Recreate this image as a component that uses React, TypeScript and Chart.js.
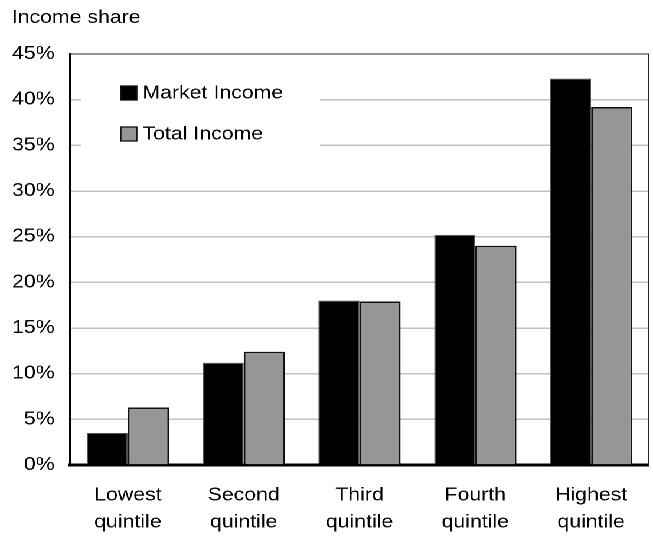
import React, { useEffect, useRef } from "react";
import { Chart, registerables } from "chart.js";

Chart.register(...registerables);

const categories: string[][] = [
  ["Lowest", "quintile"],
  ["Second", "quintile"],
  ["Third", "quintile"],
  ["Fourth", "quintile"],
  ["Highest", "quintile"],
];
const marketIncome: number[] = [3.5, 11.2, 18.0, 25.2, 42.3];
const totalIncome: number[] = [6.3, 12.4, 17.9, 24.0, 39.2];
const yTicks: number[] = [0, 5, 10, 15, 20, 25, 30, 35, 40, 45];
const seriesNames: string[] = ["Market Income", "Total Income"];
const yTitle = "Income share";

const FONT = "'Liberation Sans', Arial, sans-serif";
const S = 653 / 553; // horizontal stretch of the reference
const LW = 553;

const framePlugin = {
  id: "frame",
  afterDatasetsDraw(chart: any) {
    const { ctx, chartArea } = chart;
    ctx.save();
    // right border
    ctx.strokeStyle = "#222";
    ctx.lineWidth = 1;
    ctx.beginPath();
    ctx.moveTo(chartArea.right - 0.5, chartArea.top);
    ctx.lineTo(chartArea.right - 0.5, chartArea.bottom);
    ctx.stroke();
    ctx.restore();
  },
};

const legendPlugin = {
  id: "boxLegend",
  beforeDatasetsDraw(chart: any) {
    const { ctx } = chart;
    ctx.save();
    ctx.fillStyle = "#ffffff";
    ctx.fillRect(81 / S, 62, (320 - 81) / S, 100);
    ctx.restore();
  },
  afterDatasetsDraw(chart: any) {
    const { ctx } = chart;
    const ds = chart.data.datasets;
    const boxX = 120.7 / S;
    const boxW = 16 / S;
    const boxH = 14;
    const textX = 142.5 / S;
    const rowY = [86, 127];
    ctx.save();
    ds.forEach((d: any, i: number) => {
      const y = rowY[i];
      ctx.fillStyle = d.backgroundColor;
      ctx.fillRect(boxX, y, boxW, boxH);
      ctx.strokeStyle = "#111";
      ctx.lineWidth = 1.3;
      ctx.strokeRect(boxX, y, boxW, boxH);
      ctx.fillStyle = "#000";
      ctx.font = `18px ${FONT}`;
      ctx.textBaseline = "middle";
      ctx.textAlign = "left";
      ctx.fillText(d.label, textX, y + boxH / 2 + 0.5);
    });
    ctx.restore();
  },
};

export default function App() {
  const ref = useRef<HTMLCanvasElement | null>(null);

  useEffect(() => {
    if (!ref.current) return;
    const chart = new Chart(ref.current, {
      type: "bar",
      data: {
        labels: categories,
        datasets: [
          {
            label: seriesNames[0],
            data: marketIncome,
            backgroundColor: "#000000",
            borderColor: "#555555",
            borderWidth: 1,
            borderSkipped: "bottom",
          },
          {
            label: seriesNames[1],
            data: totalIncome,
            backgroundColor: "#969696",
            borderColor: "#111111",
            borderWidth: 1.5,
            borderSkipped: "bottom",
          },
        ],
      },
      plugins: [legendPlugin, framePlugin],
      options: {
        animation: false,
        responsive: true,
        maintainAspectRatio: false,
        devicePixelRatio: 2,
        layout: { padding: { left: 10, right: LW - 649 / S, top: 0, bottom: 0 } },
        plugins: {
          legend: { display: false },
          tooltip: { enabled: false },
          title: {
            display: true,
            text: yTitle,
            align: "start",
            color: "#000",
            font: { family: FONT, size: 18, weight: "normal" },
            padding: { top: 7, bottom: 54 - 7 - 21.6 },
          },
        },
        datasets: {
          bar: { categoryPercentage: 0.71, barPercentage: 1.0 },
        },
        scales: {
          x: {
            grid: { display: false, drawTicks: false },
            border: { display: true, color: "#000", width: 3 },
            ticks: {
              color: "#000",
              font: { family: FONT, size: 18, lineHeight: 1.5 },
              padding: 17,
              maxRotation: 0,
              autoSkip: false,
            },
            afterFit(scale: any) {
              scale.height = 540 - 465;
            },
          },
          y: {
            min: 0,
            max: 45,
            afterBuildTicks(scale: any) {
              scale.ticks = yTicks.map((v) => ({ value: v }));
            },
            grid: {
              drawTicks: false,
              lineWidth: (c: any) => (c.tick && c.tick.value === 45 ? 1 : 1.5),
              color: (c: any) => {
                const v = c.tick ? c.tick.value : -1;
                if (v === 0) return "rgba(0,0,0,0)";
                if (v === 45) return "#222";
                return "#c0c0c0";
              },
            },
            border: { display: true, color: "#000", width: 2 },
            ticks: {
              color: "#000",
              font: { family: FONT, size: 18 },
              padding: 13,
              callback: (v: any) => `${v}%`,
            },
            afterFit(scale: any) {
              scale.width = 70 / S - 10;
            },
          },
        },
      },
    });
    return () => chart.destroy();
  }, []);

  return (
    <div
      style={{
        position: "absolute",
        left: 0,
        top: 0,
        width: LW,
        height: 540,
        transform: `scaleX(${S})`,
        transformOrigin: "0 0",
        background: "#fff",
      }}
    >
      <canvas ref={ref} />
    </div>
  );
}
